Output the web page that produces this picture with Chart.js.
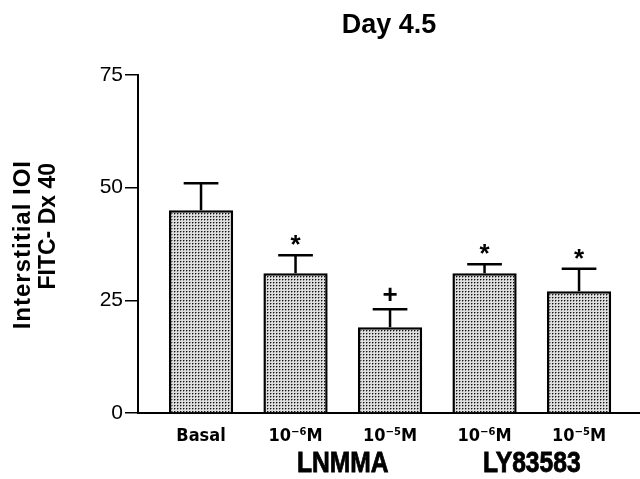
<!DOCTYPE html>
<html>
<head>
<meta charset="utf-8">
<script src="https://cdn.jsdelivr.net/npm/chart.js@4"></script>
<style>
  html, body { margin: 0; padding: 0; background: #fff; }
  #wrap { width: 640px; height: 479px; }
</style>
</head>
<body>
<div id="wrap"><canvas id="dayChart" width="640" height="479"></canvas></div>
<script>
const categories = ['Basal', '10\u207B\u2076M', '10\u207B\u2075M', '10\u207B\u2076M', '10\u207B\u2075M'];
const means = [45, 31, 19, 31, 27];
const errors = [6, 4, 4, 2, 5];
const marks = ['', '*', '+', '*', '*'];
const groupLabels = ['LNMMA', 'LY83583'];
const groupCenters = [1.5, 3.5];
const yTicks = [0, 25, 50, 75];
const yTitle = ['Interstitial IOI', 'FITC- Dx 40'];

const condensed = "'DejaVu Sans Condensed', 'Liberation Sans', sans-serif";
const sans = "'Liberation Sans', Arial, sans-serif";

// stippled grey fill like the printed figure
const pc = document.createElement('canvas');
pc.width = 3; pc.height = 3;
const pctx = pc.getContext('2d');
pctx.fillStyle = '#dedede';
pctx.fillRect(0, 0, 3, 3);
pctx.fillStyle = '#8a8a8a';
pctx.fillRect(1, 0, 1, 1);
pctx.fillRect(0, 1, 1, 1);
pctx.fillStyle = '#111';
pctx.fillRect(0, 0, 1, 1);

const ctx = document.getElementById('dayChart').getContext('2d');
const stipple = ctx.createPattern(pc, 'repeat');

const overlay = {
    id: 'overlay',
    afterDatasetsDraw(chart) {
        const c = chart.ctx;
        const x = chart.scales.x;
        const y = chart.scales.y;
        const area = chart.chartArea;
        const bars = chart.getDatasetMeta(0).data;
        c.save();
        c.strokeStyle = '#000';
        c.fillStyle = '#000';
        c.lineWidth = 2.5;
        means.forEach((m, i) => {
            const px = x.getPixelForValue(i);
            const base = y.getPixelForValue(m);
            const top = y.getPixelForValue(m + errors[i]);
            const half = bars[i].width * 0.27;
            c.beginPath();
            c.moveTo(px, base);
            c.lineTo(px, top);
            c.moveTo(px - half, top);
            c.lineTo(px + half, top);
            c.stroke();
            if (marks[i]) {
                c.font = 'bold 26px ' + sans;
                c.textAlign = 'center';
                c.textBaseline = 'middle';
                c.fillText(marks[i], px, top - (marks[i] === '*' ? 9 : 14));
            }
        });

        // group names under the dose labels, tall and narrow
        c.font = 'bold 29px ' + sans;
        c.textAlign = 'center';
        c.textBaseline = 'middle';
        c.lineWidth = 0.8;
        groupLabels.forEach((g, i) => {
            c.save();
            c.translate(x.getPixelForValue(groupCenters[i]), 464);
            c.scale(0.85, 1);
            c.fillText(g, 0, 0);
            c.strokeText(g, 0, 0);
            c.restore();
        });

        // title over the plot area
        c.font = 'bold 27px ' + sans;
        c.fillText('Day 4.5', (area.left + area.right) / 2, 26);

        // y axis title, two rotated lines ending near the same height
        c.textBaseline = 'alphabetic';
        c.textAlign = 'right';
        c.save();
        c.font = 'bold 24px ' + sans;
        c.translate(30, 160);
        c.rotate(-Math.PI / 2);
        c.letterSpacing = '1px';
        c.fillText(yTitle[0], 0, 0);
        c.restore();
        c.save();
        c.font = 'bold 23px ' + sans;
        c.translate(55, 163);
        c.rotate(-Math.PI / 2);
        c.fillText(yTitle[1], 0, 0);
        c.restore();
        c.restore();
    }
};

new Chart(ctx, {
    type: 'bar',
    data: {
        datasets: [{
            data: means.map((m, i) => ({ x: i, y: m })),
            backgroundColor: stipple,
            borderColor: '#000',
            borderWidth: 2.5,
            barPercentage: 0.68,
            categoryPercentage: 1
        }]
    },
    options: {
        responsive: false,
        animation: false,
        layout: { padding: { top: 75, left: 0, right: 0, bottom: 0 } },
        plugins: {
            legend: { display: false },
            tooltip: { enabled: false },
            title: { display: false }
        },
        scales: {
            x: {
                type: 'linear',
                offset: false,
                min: -0.667,
                max: 4.645,
                grid: { display: false, drawTicks: false },
                border: { display: true, color: '#000', width: 2 },
                ticks: {
                    stepSize: 1,
                    includeBounds: false,
                    autoSkip: false,
                    maxRotation: 0,
                    padding: 13,
                    color: '#000',
                    font: { family: condensed, size: 18, weight: 'bold' },
                    callback: v => Number.isInteger(v) ? categories[v] : ''
                },
                afterFit: s => { s.height = 66; }
            },
            y: {
                min: 0,
                max: 75,
                grid: { drawOnChartArea: false, drawTicks: true, tickLength: 13, color: '#000', lineWidth: 1.5 },
                border: { display: true, color: '#000', width: 2 },
                afterBuildTicks: s => { s.ticks = yTicks.map(v => ({ value: v })); },
                ticks: {
                    padding: 2,
                    color: '#000',
                    font: { family: sans, size: 21 }
                },
                afterFit: s => { s.width = 138; }
            }
        }
    },
    plugins: [overlay]
});
</script>
</body>
</html>
